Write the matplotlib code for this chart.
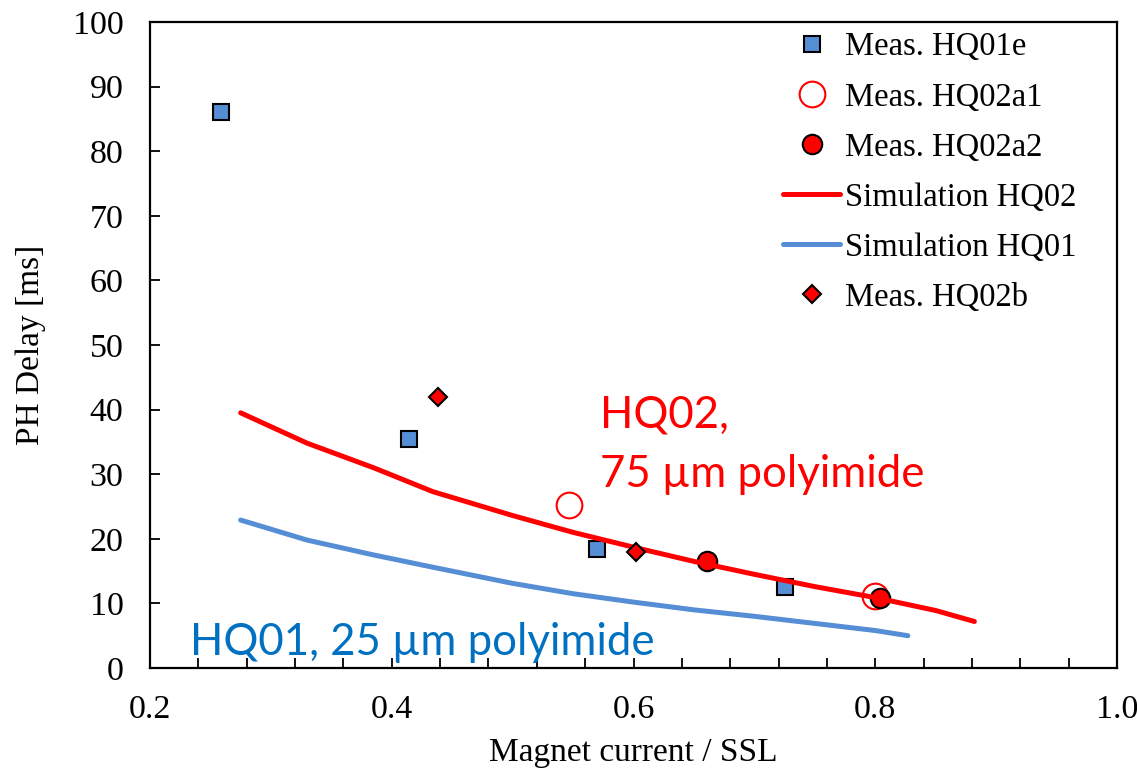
import matplotlib
matplotlib.use("Agg")
import matplotlib.pyplot as plt
from matplotlib.ticker import MultipleLocator

# measured points
hq01e_x = [0.259, 0.414, 0.570, 0.725]
hq01e_y = [86.1, 35.4, 18.4, 12.5]
hq02a1_x = [0.547, 0.800]
hq02a1_y = [25.2, 11.1]
hq02a2_x = [0.661, 0.804]
hq02a2_y = [16.6, 10.9]
hq02b_x = [0.438, 0.602]
hq02b_y = [41.9, 18.0]

# simulations
sim02_x = [0.275, 0.33, 0.385, 0.434, 0.50, 0.55, 0.60, 0.65, 0.70, 0.75, 0.80, 0.85, 0.882]
sim02_y = [39.5, 34.8, 31.0, 27.3, 23.6, 21.0, 18.7, 16.5, 14.5, 12.6, 10.9, 8.9, 7.2]
sim01_x = [0.275, 0.33, 0.385, 0.434, 0.50, 0.55, 0.60, 0.65, 0.70, 0.75, 0.80, 0.827]
sim01_y = [22.9, 19.8, 17.5, 15.6, 13.1, 11.5, 10.2, 9.0, 8.0, 6.9, 5.8, 5.0]

serif = "Liberation Serif"
tick_fs = 24.5
leg_fs = 23.5
lab_fs = 24
blue = "#558ED5"
red = "#FF0000"

fig = plt.figure(figsize=(11.37, 7.70), dpi=100)
ax = fig.add_axes([150 / 1137, 102 / 770, 967 / 1137, 646 / 770])

ax.plot(hq01e_x, hq01e_y, "s", ms=12, mfc=blue, mec="black", mew=1.5, label="Meas. HQ01e")
ax.plot(hq02a1_x, hq02a1_y, "o", ms=18.5, mfc="none", mec=red, mew=1.5, label="Meas. HQ02a1")
ax.plot(hq02a2_x, hq02a2_y, "o", ms=14, mfc=red, mec="black", mew=1.5, label="Meas. HQ02a2")
ax.plot(sim02_x, sim02_y, "-", color=red, lw=3.6, solid_capstyle="round", label="Simulation HQ02")
ax.plot(sim01_x, sim01_y, "-", color=blue, lw=3.6, solid_capstyle="round", label="Simulation HQ01")
ax.plot(hq02b_x, hq02b_y, "D", ms=9.5, mfc=red, mec="black", mew=1.5, label="Meas. HQ02b")

ax.set_xlim(0.2, 1.0)
ax.set_ylim(0, 100)
ax.xaxis.set_minor_locator(MultipleLocator(0.04))
ax.yaxis.set_major_locator(MultipleLocator(10))
ax.set_xticks([0.2, 0.4, 0.6, 0.8, 1.0])
ax.set_xticklabels(["0.2", "0.4", "0.6", "0.8", "1.0"])
ax.tick_params(axis="x", which="both", direction="in", length=7, width=1.3, pad=19,
               labelsize=tick_fs, top=False)
ax.tick_params(axis="y", which="both", direction="in", length=7, width=1.3, pad=19,
               labelsize=tick_fs, right=False)
for lab in ax.get_xticklabels() + ax.get_yticklabels():
    lab.set_fontfamily(serif)
for s in ax.spines.values():
    s.set_linewidth(1.6)

ax.set_xlabel("Magnet current / SSL", fontsize=lab_fs, fontfamily=serif, labelpad=9)
ax.set_ylabel("PH Delay [ms]", fontsize=lab_fs, fontfamily=serif, labelpad=19)

ax.text(0.572, 37.2, "HQ02,", color=red, fontsize=31.5, fontfamily="Lato",
        va="baseline", ha="left")
ax.text(0.572, 28.0, "75 µm polyimide", color=red, fontsize=31.5, fontfamily="Lato",
        va="baseline", ha="left")
ax.text(0.2335, 2.0, "HQ01, 25 µm polyimide", color="#0070C0", fontsize=31.5,
        fontfamily="Lato", va="baseline", ha="left")

leg = ax.legend(loc="upper left", bbox_to_anchor=(783 / 1137, 1 - 32 / 770),
                bbox_transform=fig.transFigure, frameon=False, borderpad=0,
                borderaxespad=0, handlelength=1.75, handletextpad=0.15,
                labelspacing=0.6, prop={"family": serif, "size": leg_fs})

fig.savefig("out.png", dpi=100)
